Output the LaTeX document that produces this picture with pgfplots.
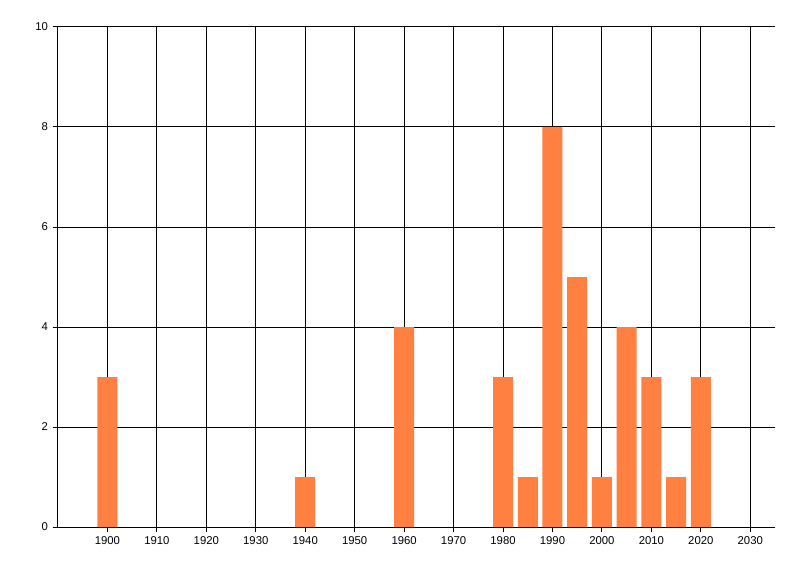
\documentclass[border=0pt]{standalone}
\usepackage{pgfplots}
\pgfplotsset{compat=1.18}
\usepackage{fontspec}
\setmainfont{Liberation Sans}
\definecolor{barorange}{RGB}{255,128,64}

\begin{document}
\begin{tikzpicture}
\useasboundingbox (-43.5pt,-36.75pt) rectangle (556.5pt,395.25pt);
\begin{axis}[
    at = {(0,0)}, anchor = south west
  , scale only axis
  , width = 537.75pt, height = 375pt
  , xmin = 1890, xmax = 2035
  , ymin = 0, ymax = 10
  , xtick = {1900,1910,...,2030}
  , ytick = {0,2,...,10}
  , axis x line* = bottom, axis y line* = left
  , axis line style = {-, black, line width=0.75pt}
  , grid = major
  , major grid style = {black, line width=0.75pt}
  , tick style = {black, line width=0.75pt}
  , tick align = outside
  , major tick length = 4pt
  , ticklabel style = {font=\fontsize{8.5}{10}\selectfont}
  , /pgf/number format/assume math mode=true
  , /pgf/number format/1000 sep={}
  , xtick pos = bottom, ytick pos = left
  , clip = false
  ]
\addplot[ybar, bar width=15pt, fill=barorange, draw=none] coordinates {
  (1900,3) (1940,1) (1960,4) (1980,3) (1985,1) (1990,8)
  (1995,5) (2000,1) (2005,4) (2010,3) (2015,1) (2020,3)
};
\end{axis}
\end{tikzpicture}
\end{document}
